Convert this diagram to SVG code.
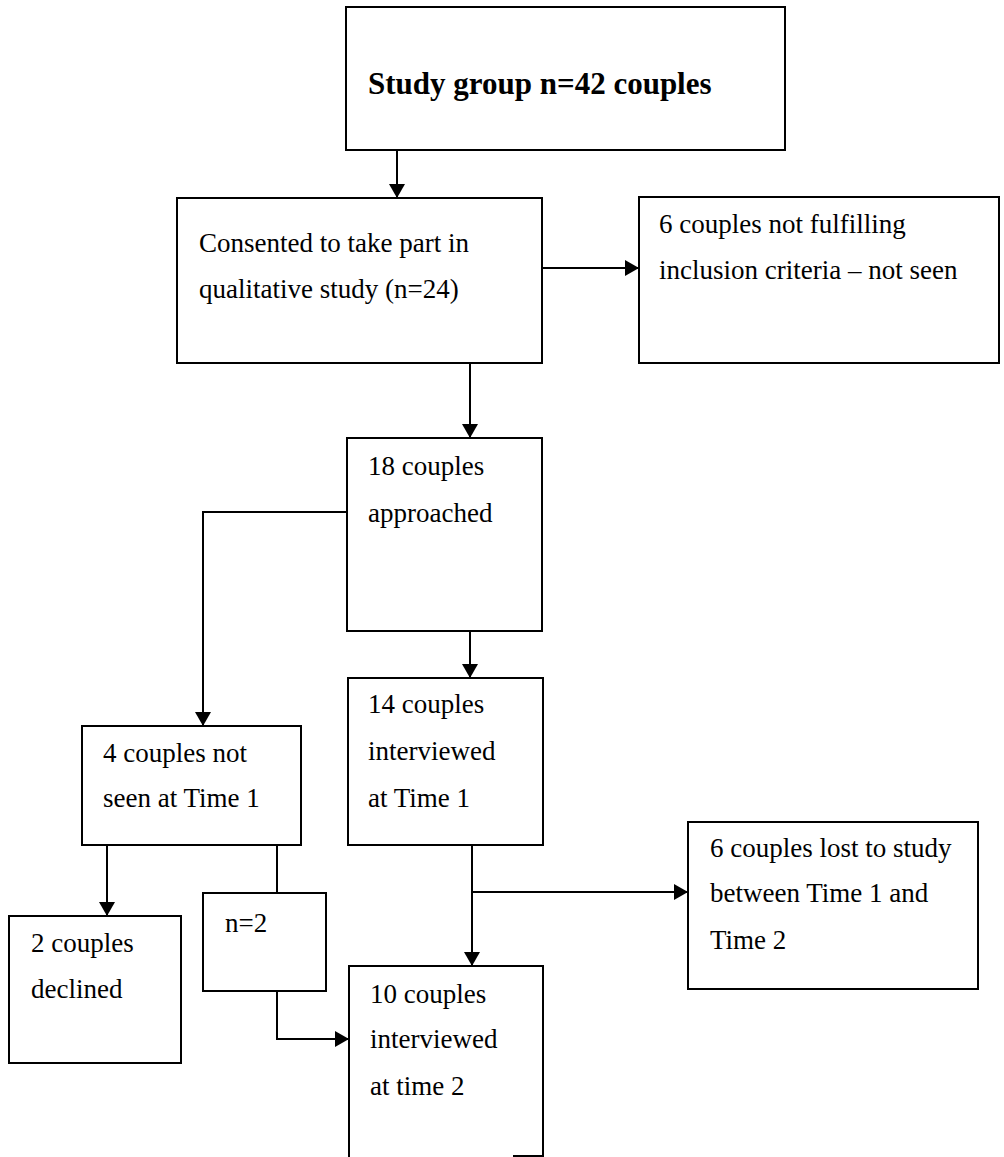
<svg xmlns="http://www.w3.org/2000/svg" width="1004" height="1157" viewBox="0 0 1004 1157">
  <style>
    .box { fill: #ffffff; stroke: #000000; stroke-width: 2; }
    .lbl { font-family: "Liberation Serif", "Times New Roman", serif; font-size: 27px; fill: #000000; }
    .title { font-family: "Liberation Serif", "Times New Roman", serif; font-size: 31px; font-weight: bold; fill: #000000; }
    .conn { fill: none; stroke: #000000; stroke-width: 2; }
  </style>
  <defs>
    <marker id="arrow" markerUnits="userSpaceOnUse" markerWidth="14" markerHeight="16" refX="14" refY="8" orient="auto">
      <path d="M0,0 L14,8 L0,16 Z" fill="#000000"/>
    </marker>
  </defs>
  <rect width="1004" height="1157" fill="#ffffff"/>

  <g id="connectors">
    <path class="conn" d="M397,150 V198" marker-end="url(#arrow)"/>
    <path class="conn" d="M542,268 H639" marker-end="url(#arrow)"/>
    <path class="conn" d="M470,363 V438" marker-end="url(#arrow)"/>
    <path class="conn" d="M347,512 H203 V726" marker-end="url(#arrow)"/>
    <path class="conn" d="M470,631 V678" marker-end="url(#arrow)"/>
    <path class="conn" d="M472,845 V966" marker-end="url(#arrow)"/>
    <path class="conn" d="M472,892 H688" marker-end="url(#arrow)"/>
    <path class="conn" d="M107,845 V916" marker-end="url(#arrow)"/>
    <path class="conn" d="M277,845 V893"/>
    <path class="conn" d="M277,991 V1039 H349" marker-end="url(#arrow)"/>
  </g>

  <g id="study-group">
    <rect class="box" x="346" y="7" width="439" height="143"/>
    <text class="title" x="368" y="94">Study group n=42 couples</text>
  </g>

  <g id="consented">
    <rect class="box" x="177" y="198" width="365" height="165"/>
    <text class="lbl" x="199" y="252">Consented to take part in</text>
    <text class="lbl" x="199" y="298">qualitative study (n=24)</text>
  </g>

  <g id="not-fulfilling">
    <rect class="box" x="639" y="197" width="360" height="166"/>
    <text class="lbl" x="659" y="233">6 couples not fulfilling</text>
    <text class="lbl" x="659" y="279">inclusion criteria – not seen</text>
  </g>

  <g id="approached">
    <rect class="box" x="347" y="438" width="195" height="193"/>
    <text class="lbl" x="368" y="475">18 couples</text>
    <text class="lbl" x="368" y="522">approached</text>
  </g>

  <g id="not-seen-time1">
    <rect class="box" x="82" y="726" width="219" height="119"/>
    <text class="lbl" x="103" y="762">4 couples not</text>
    <text class="lbl" x="103" y="807">seen at Time 1</text>
  </g>

  <g id="interviewed-time1">
    <rect class="box" x="348" y="678" width="195" height="167"/>
    <text class="lbl" x="368" y="713">14 couples</text>
    <text class="lbl" x="368" y="760">interviewed</text>
    <text class="lbl" x="368" y="807">at Time 1</text>
  </g>

  <g id="lost-to-study">
    <rect class="box" x="688" y="822" width="290" height="167"/>
    <text class="lbl" x="710" y="857">6 couples lost to study</text>
    <text class="lbl" x="710" y="902">between Time 1 and</text>
    <text class="lbl" x="710" y="949">Time 2</text>
  </g>

  <g id="declined">
    <rect class="box" x="9" y="916" width="172" height="147"/>
    <text class="lbl" x="31" y="952">2 couples</text>
    <text class="lbl" x="31" y="998">declined</text>
  </g>

  <g id="n2">
    <rect class="box" x="203" y="893" width="123" height="98"/>
    <text class="lbl" x="225" y="932">n=2</text>
  </g>

  <g id="interviewed-time2">
    <path class="box" d="M349,1157 V966 H543 V1156 H513"/>
    <text class="lbl" x="370" y="1003">10 couples</text>
    <text class="lbl" x="370" y="1048">interviewed</text>
    <text class="lbl" x="370" y="1095">at time 2</text>
  </g>
</svg>
